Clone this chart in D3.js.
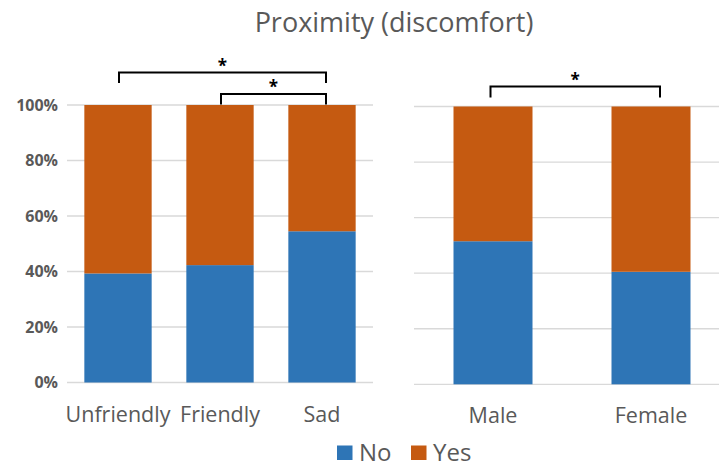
<!DOCTYPE html>
<html><head><meta charset="utf-8">
<script src="https://cdn.jsdelivr.net/npm/d3@7"></script>
<style>body{margin:0;background:#fff}svg{display:block}</style>
</head><body>
<svg id="c" width="719" height="468"></svg>
<script>
const title = "Proximity (discomfort)";
const leftCategories = ["Unfriendly", "Friendly", "Sad"];
const leftNo = [39.3, 42.3, 54.5];
const rightCategories = ["Male", "Female"];
const rightNo = [51.5, 40.5];
const seriesNames = ["No", "Yes"];
const seriesColors = ["#2E75B6", "#C55A11"];
const tickValues = [0, 20, 40, 60, 80, 100];
const leftBrackets = [
  {from: "Unfriendly", to: "Sad", level: 0, label: "*"},
  {from: "Friendly", to: "Sad", level: 1, label: "*"}
];
const rightBrackets = [
  {from: "Male", to: "Female", level: 0, label: "*"}
];

const svg = d3.select("#c");
const font = "'Open Sans', 'Noto Sans', sans-serif";
const grey = "#595959";

svg.append("text").attr("x", 394).attr("y", 32).attr("text-anchor", "middle")
  .attr("font-family", font).attr("font-size", 27).attr("fill", grey).text(title);

function panel(cats, noVals, xRange, yRange, pad, brackets, bracketCfg, showTicks) {
  const x = d3.scaleBand().domain(cats).range(xRange).paddingInner(pad).paddingOuter(pad / 2);
  const y = d3.scaleLinear().domain([0, 100]).range(yRange);
  const g = svg.append("g");
  g.selectAll("line.grid").data(tickValues).join("line")
    .attr("x1", xRange[0]).attr("x2", xRange[1])
    .attr("y1", d => y(d)).attr("y2", d => y(d))
    .attr("stroke", "#d9d9d9").attr("stroke-width", 1.3);
  if (showTicks) {
    const ax = d3.axisLeft(y).tickValues(tickValues).tickFormat(d => d + "%").tickSize(0).tickPadding(9);
    const a = g.append("g").attr("transform", `translate(${xRange[0]},0)`).call(ax);
    a.select(".domain").remove();
    a.selectAll("text").attr("font-family", font).attr("font-size", 16).attr("font-weight", "bold").attr("fill", grey);
  }
  const data = cats.map((c, i) => ({c, vals: [noVals[i], 100 - noVals[i]]}));
  const stack = data.map(d => {
    let acc = 0;
    return d.vals.map((v, s) => { const r = {c: d.c, s, y0: acc, y1: acc + v}; acc += v; return r; });
  }).flat();
  g.selectAll("rect.bar").data(stack).join("rect")
    .attr("x", d => x(d.c)).attr("width", x.bandwidth())
    .attr("y", d => y(d.y1)).attr("height", d => y(d.y0) - y(d.y1))
    .attr("fill", d => seriesColors[d.s]);
  g.selectAll("text.cat").data(cats).join("text")
    .attr("x", d => x(d) + x.bandwidth() / 2).attr("y", yRange[0] + 39)
    .attr("text-anchor", "middle").attr("font-family", font).attr("font-size", 21.5).attr("fill", grey)
    .text(d => d);
  brackets.forEach(b => {
    const x1 = x(b.from) + x.bandwidth() / 2 + bracketCfg.dl;
    const x2 = x(b.to) + x.bandwidth() / 2 + bracketCfg.dr;
    const yt = bracketCfg.top + b.level * bracketCfg.step;
    g.append("path").attr("d", `M${x1},${yt + bracketCfg.drop}V${yt}H${x2}V${yt + bracketCfg.drop}`)
      .attr("fill", "none").attr("stroke", "#000").attr("stroke-width", 2);
    g.append("text").attr("x", (x1 + x2) / 2).attr("y", yt - 1)
      .attr("text-anchor", "middle").attr("font-family", font).attr("font-size", 17).attr("font-weight", "bold")
      .attr("fill", "#000").text(b.label);
  });
}

panel(leftCategories, leftNo, [67, 373], [382.5, 105], 0.34, leftBrackets,
  {dl: 1, dr: 4, top: 72.5, step: 21.5, drop: 10.5}, true);
panel(rightCategories, rightNo, [414, 730], [384.3, 106.5], 0.5, rightBrackets,
  {dl: -2.5, dr: 9, top: 86.5, step: 0, drop: 11}, false);

const lg = svg.append("g");
const lx = [337, 411];
seriesNames.forEach((n, i) => {
  lg.append("rect").attr("x", lx[i]).attr("y", 445.5).attr("width", 15.5).attr("height", 14.5).attr("fill", seriesColors[i]);
  lg.append("text").attr("x", lx[i] + 22).attr("y", 460.5).attr("font-family", font).attr("font-size", 24).attr("fill", grey).text(n);
});
</script>
</body></html>
